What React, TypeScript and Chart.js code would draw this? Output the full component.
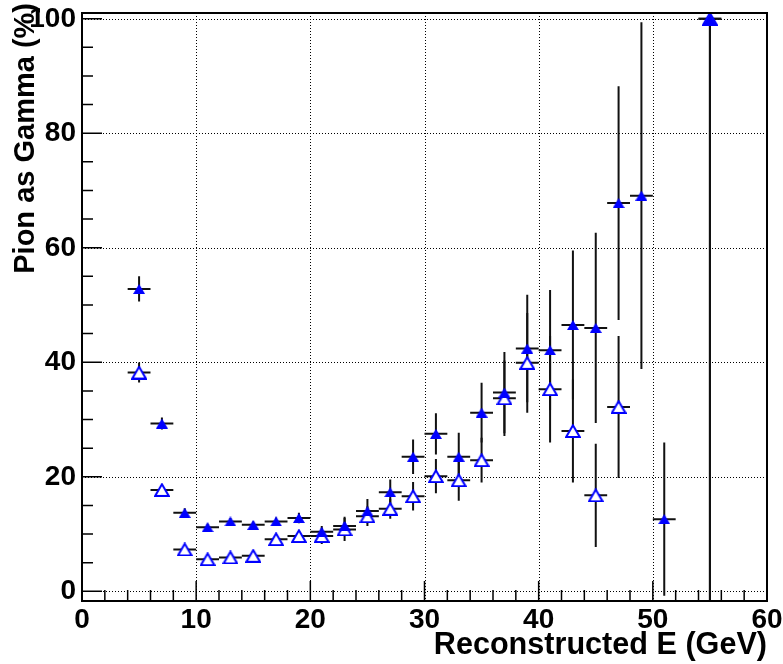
import React, { useEffect, useRef } from 'react';
import { Chart, registerables } from 'chart.js';

Chart.register(...registerables);

// ---- data ----
const energies = [5, 7, 9, 11, 13, 15, 17, 19, 21, 23, 25, 27, 29, 31, 33, 35, 37, 39, 41, 43, 45, 47, 49, 51, 53, 55];
const filledValues = [52.8, 29.3, 13.7, 11.2, 12.2, 11.6, 12.2, 12.8, 10.4, 11.4, 14.0, 17.3, 23.5, 27.5, 23.5, 31.2, 34.7, 42.4, 42.1, 46.5, 46.0, 67.8, 69.1, 12.6, null, 100];
const filledErrors = [2.2, 1.05, 0.8, 0.6, 0.6, 0.6, 0.7, 0.9, 1.0, 1.6, 2.1, 2.2, 3.0, 3.6, 4.2, 5.2, 7.1, 9.4, 10.5, 13.0, 16.6, 20.4, 30.3, 13.4, null, 102];
const openValues = [38.2, 17.7, 7.3, 5.6, 5.9, 6.2, 9.1, 9.65, 9.65, 10.8, 13.1, 14.4, 16.6, 20.1, 19.4, 22.9, 33.7, 39.9, 35.3, 28.0, 16.75, 32.2, null, null, null, 100];
const openErrors = [1.75, 0.8, 0.6, 0.5, 0.5, 0.5, 0.6, 0.7, 1.4, 2.0, 1.7, 1.75, 2.5, 3.0, 3.6, 3.9, 6.6, 8.7, 9.3, 9.0, 9.0, 12.4, null, null, null, 102];
const binHalfWidth = 1;

const xTickValues = [0, 10, 20, 30, 40, 50, 60];
const yTickValues = [0, 20, 40, 60, 80, 100];
const xMinorStep = 2;
const yMinorStep = 5;
const xAxisTitle = 'Reconstructed E (GeV)';
const yAxisTitle = 'Pion as Gamma (%)';

const FONT = '"Liberation Sans", Arial, Helvetica, sans-serif';

function toPoints(values: (number | null)[], errors: (number | null)[]) {
  const pts: { x: number; y: number; err: number }[] = [];
  energies.forEach((e, i) => {
    const v = values[i];
    if (v === null || v === undefined) return;
    pts.push({ x: e, y: v, err: errors[i] ?? 0 });
  });
  return pts;
}

// ROOT-like triangle markers, centred on their bounding box
function makeTriangle(w: number, h: number, filled: boolean): HTMLCanvasElement {
  const c = document.createElement('canvas');
  c.width = w;
  c.height = h;
  const g = c.getContext('2d')!;
  g.beginPath();
  if (filled) {
    g.moveTo(0, h);
    g.lineTo(w, h);
    g.lineTo(w / 2, 0);
    g.closePath();
    g.fillStyle = '#0000ff';
    g.fill();
  } else {
    g.moveTo(1.2, h - 1);
    g.lineTo(w - 1.2, h - 1);
    g.lineTo(w / 2, 1.3);
    g.closePath();
    g.fillStyle = '#ffffff';
    g.fill();
    g.lineWidth = 2;
    g.lineJoin = 'miter';
    g.strokeStyle = '#0000ff';
    g.stroke();
  }
  return c;
}

const rootStyle = {
  id: 'rootStyle',
  beforeDatasetsDraw(chart: any) {
    const { ctx, chartArea: a } = chart;
    const xs = chart.scales.x;
    const ys = chart.scales.y;
    ctx.save();
    // dotted grid
    ctx.strokeStyle = '#000';
    ctx.lineWidth = 1;
    ctx.setLineDash([1, 2]);
    for (const v of xTickValues) {
      if (v <= xs.min || v >= xs.max) continue;
      const px = Math.round(xs.getPixelForValue(v)) + 0.5;
      ctx.beginPath();
      ctx.moveTo(px, a.top);
      ctx.lineTo(px, a.bottom);
      ctx.stroke();
    }
    for (const v of yTickValues) {
      if (v <= ys.min || v >= ys.max) continue;
      const py = Math.round(ys.getPixelForValue(v)) + 0.5;
      ctx.beginPath();
      ctx.moveTo(a.left, py);
      ctx.lineTo(a.right, py);
      ctx.stroke();
    }
    ctx.setLineDash([]);
    // error bars
    ctx.beginPath();
    ctx.rect(a.left, a.top, a.right - a.left, a.bottom - a.top);
    ctx.clip();
    ctx.strokeStyle = '#111';
    ctx.lineWidth = 2;
    chart.data.datasets.forEach((ds: any) => {
      ds.data.forEach((p: any) => {
        const cx = xs.getPixelForValue(p.x);
        const cy = ys.getPixelForValue(p.y);
        ctx.beginPath();
        ctx.moveTo(xs.getPixelForValue(p.x - binHalfWidth), cy);
        ctx.lineTo(xs.getPixelForValue(p.x + binHalfWidth), cy);
        ctx.moveTo(cx, ys.getPixelForValue(p.y + p.err));
        ctx.lineTo(cx, ys.getPixelForValue(p.y - p.err));
        ctx.stroke();
      });
    });
    ctx.restore();
  },
  afterDatasetsDraw(chart: any) {
    const { ctx, chartArea: a } = chart;
    const xs = chart.scales.x;
    const ys = chart.scales.y;
    ctx.save();
    // frame
    ctx.strokeStyle = '#000';
    ctx.lineWidth = 2;
    ctx.strokeRect(a.left, a.top, a.right - a.left, a.bottom - a.top);
    // ticks (inside)
    ctx.lineWidth = 1.5;
    ctx.beginPath();
    for (let v = 0; v <= 60 + 1e-9; v += xMinorStep) {
      const px = xs.getPixelForValue(v);
      const len = v % 10 === 0 ? 20 : 11;
      ctx.moveTo(px, a.bottom);
      ctx.lineTo(px, a.bottom - len);
    }
    for (let v = 0; v <= 100 + 1e-9; v += yMinorStep) {
      const py = ys.getPixelForValue(v);
      const len = v % 20 === 0 ? 20 : 11;
      ctx.moveTo(a.left, py);
      ctx.lineTo(a.left + len, py);
    }
    ctx.stroke();
    // tick labels
    ctx.fillStyle = '#000';
    ctx.font = `bold 28px ${FONT}`;
    ctx.textBaseline = 'alphabetic';
    ctx.textAlign = 'center';
    for (const v of xTickValues) {
      ctx.fillText(String(v), xs.getPixelForValue(v), 628);
    }
    ctx.textAlign = 'right';
    for (const v of yTickValues) {
      ctx.fillText(String(v), a.left - 6, ys.getPixelForValue(v) + 8);
    }
    // axis titles
    ctx.font = `bold 30.6px ${FONT}`;
    ctx.textAlign = 'right';
    ctx.fillText(xAxisTitle, a.right, 654);
    ctx.save();
    ctx.font = `bold 29px ${FONT}`;
    ctx.translate(34, 3);
    ctx.rotate(-Math.PI / 2);
    ctx.textAlign = 'right';
    ctx.fillText(yAxisTitle, 0, 0);
    ctx.restore();
    ctx.restore();
  },
};

export default function App() {
  const canvasRef = useRef<HTMLCanvasElement | null>(null);

  useEffect(() => {
    const canvas = canvasRef.current;
    if (!canvas) return;
    const filledMarker = makeTriangle(12, 10, true);
    const openMarker = makeTriangle(16, 14, false);
    const chart = new Chart(canvas, {
      type: 'scatter',
      data: {
        datasets: [
          {
            label: 'filled',
            data: toPoints(filledValues, filledErrors),
            pointStyle: filledMarker,
            pointRadius: 6,
            pointHoverRadius: 6,
            backgroundColor: '#0000ff',
            borderColor: '#0000ff',
            borderWidth: 0,
            showLine: false,
          },
          {
            label: 'open',
            data: toPoints(openValues, openErrors),
            pointStyle: openMarker,
            pointRadius: 8,
            pointHoverRadius: 8,
            backgroundColor: '#ffffff',
            borderColor: '#0000ff',
            borderWidth: 0,
            showLine: false,
          },
        ] as any,
      },
      options: {
        animation: false,
        responsive: false,
        maintainAspectRatio: false,
        events: [],
        layout: { padding: { left: 0, right: 16, top: 13, bottom: 0 } },
        plugins: {
          legend: { display: false },
          tooltip: { enabled: false },
          title: { display: false },
        },
        scales: {
          x: {
            type: 'linear',
            min: 0,
            max: 60,
            grid: { display: false },
            border: { display: false },
            ticks: { display: false },
            afterFit: (s: any) => {
              s.height = 63;
            },
          },
          y: {
            type: 'linear',
            min: -1.7,
            max: 101,
            grid: { display: false },
            border: { display: false },
            ticks: { display: false },
            afterFit: (s: any) => {
              s.width = 82;
            },
          },
        },
      } as any,
      plugins: [rootStyle],
    });
    return () => chart.destroy();
  }, []);

  return (
    <div style={{ position: 'fixed', left: 0, top: 0, width: 783, height: 664, background: '#fff' }}>
      <canvas ref={canvasRef} width={783} height={664} style={{ display: 'block' }} />
    </div>
  );
}
